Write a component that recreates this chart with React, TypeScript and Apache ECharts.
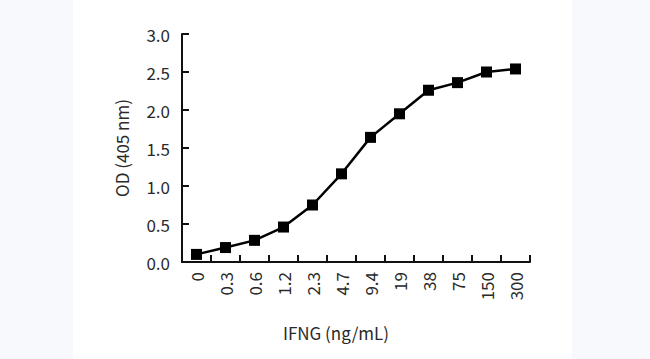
import React, { useEffect, useRef } from "react";
import * as echarts from "echarts";

const categories = ["0", "0.3", "0.6", "1.2", "2.3", "4.7", "9.4", "19", "38", "75", "150", "300"];
const odValues = [0.1, 0.19, 0.285, 0.46, 0.75, 1.16, 1.64, 1.95, 2.26, 2.36, 2.5, 2.54];
const xAxisName = "IFNG (ng/mL)";
const yAxisName = "OD (405 nm)";

const FONT = "'Noto Sans CJK JP', 'Noto Sans', sans-serif";

export default function App() {
  const ref = useRef<HTMLDivElement>(null);
  useEffect(() => {
    if (!ref.current) return;
    const chart = echarts.init(ref.current, undefined, { renderer: "svg" });
    chart.setOption({
      animation: false,
      backgroundColor: "transparent",
      textStyle: { fontFamily: FONT },
      grid: { left: 182, right: 120, top: 34, bottom: 97, containLabel: false },
      xAxis: {
        type: "category",
        data: categories,
        boundaryGap: true,
        name: xAxisName,
        nameLocation: "middle",
        nameGap: 62,
        nameTextStyle: { fontSize: 17, color: "#2a2a2a", fontFamily: FONT, padding: [0, 40, 0, 0] },
        axisLine: { lineStyle: { color: "#111", width: 2 } },
        axisTick: { show: true, inside: true, length: 7, lineStyle: { color: "#111", width: 2 } },
        axisLabel: { rotate: 90, interval: 0, fontSize: 17, color: "#2a2a2a", margin: 10, fontFamily: FONT },
        splitLine: { show: false },
      },
      yAxis: {
        type: "value",
        min: 0,
        max: 3,
        interval: 0.5,
        name: yAxisName,
        nameLocation: "middle",
        nameGap: 52,
        nameTextStyle: { fontSize: 17, color: "#2a2a2a", fontFamily: FONT },
        axisLine: { show: true, lineStyle: { color: "#111", width: 2 } },
        axisTick: { show: true, inside: true, length: 7, lineStyle: { color: "#111", width: 2 } },
        axisLabel: {
          fontSize: 17,
          color: "#2a2a2a",
          margin: 12,
          fontFamily: FONT,
          formatter: (v: number) => v.toFixed(1),
        },
        splitLine: { show: false },
      },
      series: [
        {
          type: "line",
          data: odValues,
          symbol: "rect",
          symbolSize: 11,
          lineStyle: { color: "#000", width: 2.5 },
          itemStyle: { color: "#000" },
        },
      ],
    });
    return () => chart.dispose();
  }, []);
  return (
    <div style={{ position: "fixed", left: 0, top: 0, width: 650, height: 359, background: "#f8f9fd" }}>
      <div style={{ position: "absolute", left: 73, top: 0, width: 499, height: 359, background: "#ffffff" }} />
      <div ref={ref} style={{ position: "absolute", left: 0, top: 0, width: 650, height: 359 }} />
    </div>
  );
}
